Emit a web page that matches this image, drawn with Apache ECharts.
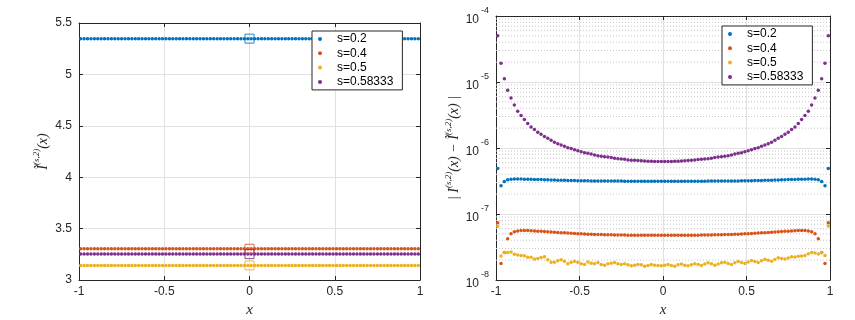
<!DOCTYPE html>
<html><head><meta charset="utf-8">
<script src="https://cdn.jsdelivr.net/npm/echarts@6/dist/echarts.min.js"></script>
<style>html,body{margin:0;padding:0;background:#fff}#c{width:855px;height:320px}</style>
</head><body><div id="c"></div>
<script>
// ---- data ----
const seriesNames = ['s=0.2', 's=0.4', 's=0.5', 's=0.58333'];
const xGrid = [
-0.99,-0.97,-0.95,-0.93,-0.91,-0.89,-0.87,-0.85,-0.83,-0.81,
-0.79,-0.77,-0.75,-0.73,-0.71,-0.69,-0.67,-0.65,-0.63,-0.61,
-0.59,-0.57,-0.55,-0.53,-0.51,-0.49,-0.47,-0.45,-0.43,-0.41,
-0.39,-0.37,-0.35,-0.33,-0.31,-0.29,-0.27,-0.25,-0.23,-0.21,
-0.19,-0.17,-0.15,-0.13,-0.11,-0.09,-0.07,-0.05,-0.03,-0.01,
0.01,0.03,0.05,0.07,0.09,0.11,0.13,0.15,0.17,0.19,
0.21,0.23,0.25,0.27,0.29,0.31,0.33,0.35,0.37,0.39,
0.41,0.43,0.45,0.47,0.49,0.51,0.53,0.55,0.57,0.59,
0.61,0.63,0.65,0.67,0.69,0.71,0.73,0.75,0.77,0.79,
0.81,0.83,0.85,0.87,0.89,0.91,0.93,0.95,0.97,0.99];

// left panel: approximated value (constant across x) and exact value at x=0
const approxLevel = [5.348, 3.304, 3.142, 3.252];
const exactX = [0, 0, 0, 0];
const exactVal = [5.348, 3.304, 3.142, 3.252];

// right panel: absolute error
const errS02 = [
4.9e-7,2.68e-7,3.12e-7,3.3e-7,3.36e-7,3.38e-7,3.38e-7,3.38e-7,3.37e-7,3.36e-7,
3.35e-7,3.34e-7,3.33e-7,3.32e-7,3.3e-7,3.29e-7,3.28e-7,3.27e-7,3.26e-7,3.25e-7,
3.24e-7,3.23e-7,3.22e-7,3.21e-7,3.2e-7,3.19e-7,3.18e-7,3.18e-7,3.17e-7,3.17e-7,
3.16e-7,3.16e-7,3.16e-7,3.15e-7,3.15e-7,3.15e-7,3.15e-7,3.15e-7,3.14e-7,3.14e-7,
3.14e-7,3.14e-7,3.14e-7,3.14e-7,3.14e-7,3.14e-7,3.14e-7,3.14e-7,3.14e-7,3.14e-7,
3.14e-7,3.14e-7,3.14e-7,3.14e-7,3.14e-7,3.14e-7,3.14e-7,3.14e-7,3.14e-7,3.14e-7,
3.14e-7,3.14e-7,3.14e-7,3.15e-7,3.15e-7,3.15e-7,3.15e-7,3.15e-7,3.16e-7,3.16e-7,
3.16e-7,3.17e-7,3.17e-7,3.18e-7,3.18e-7,3.19e-7,3.2e-7,3.21e-7,3.22e-7,3.23e-7,
3.24e-7,3.25e-7,3.26e-7,3.27e-7,3.28e-7,3.29e-7,3.3e-7,3.32e-7,3.33e-7,3.34e-7,
3.35e-7,3.36e-7,3.37e-7,3.38e-7,3.38e-7,3.37e-7,3.3e-7,3.12e-7,2.68e-7,4.9e-7];
const errS04 = [
7.4e-8,1.78e-8,2.6e-8,4.2e-8,5.0e-8,5.4e-8,5.55e-8,5.6e-8,5.62e-8,5.6e-8,
5.58e-8,5.55e-8,5.5e-8,5.46e-8,5.42e-8,5.38e-8,5.34e-8,5.3e-8,5.26e-8,5.22e-8,
5.18e-8,5.14e-8,5.1e-8,5.07e-8,5.04e-8,5.01e-8,4.98e-8,4.95e-8,4.93e-8,4.91e-8,
4.89e-8,4.87e-8,4.85e-8,4.84e-8,4.83e-8,4.82e-8,4.81e-8,4.8e-8,4.79e-8,4.78e-8,
4.78e-8,4.77e-8,4.77e-8,4.76e-8,4.76e-8,4.76e-8,4.75e-8,4.75e-8,4.75e-8,4.75e-8,
4.75e-8,4.75e-8,4.75e-8,4.75e-8,4.76e-8,4.76e-8,4.76e-8,4.77e-8,4.77e-8,4.78e-8,
4.78e-8,4.79e-8,4.8e-8,4.81e-8,4.82e-8,4.83e-8,4.84e-8,4.85e-8,4.87e-8,4.89e-8,
4.91e-8,4.93e-8,4.95e-8,4.98e-8,5.01e-8,5.04e-8,5.07e-8,5.1e-8,5.14e-8,5.18e-8,
5.22e-8,5.26e-8,5.3e-8,5.34e-8,5.38e-8,5.42e-8,5.46e-8,5.5e-8,5.55e-8,5.58e-8,
5.6e-8,5.62e-8,5.6e-8,5.55e-8,5.4e-8,5.0e-8,4.2e-8,2.6e-8,1.78e-8,7.4e-8];
const errS05 = [
6.5e-8,2.32e-8,2.6e-8,2.6e-8,2.66e-8,2.45e-8,2.4e-8,2.35e-8,2.33e-8,2.22e-8,
2.22e-8,2.08e-8,2.12e-8,2.2e-8,2.25e-8,2.02e-8,1.86e-8,1.86e-8,1.95e-8,2.02e-8,
1.92e-8,1.77e-8,1.85e-8,1.92e-8,1.85e-8,1.77e-8,1.72e-8,1.88e-8,1.8e-8,1.76e-8,
1.84e-8,1.72e-8,1.68e-8,1.76e-8,1.8e-8,1.84e-8,1.76e-8,1.72e-8,1.76e-8,1.7e-8,
1.64e-8,1.68e-8,1.72e-8,1.7e-8,1.62e-8,1.66e-8,1.72e-8,1.68e-8,1.66e-8,1.64e-8,
1.68e-8,1.72e-8,1.66e-8,1.62e-8,1.7e-8,1.74e-8,1.68e-8,1.64e-8,1.7e-8,1.76e-8,
1.72e-8,1.66e-8,1.74e-8,1.82e-8,1.76e-8,1.68e-8,1.74e-8,1.82e-8,1.86e-8,1.78e-8,
1.72e-8,1.82e-8,1.9e-8,1.84e-8,1.78e-8,1.88e-8,1.98e-8,1.9e-8,1.84e-8,1.96e-8,
2.06e-8,2.0e-8,1.92e-8,2.04e-8,2.18e-8,2.12e-8,2.08e-8,2.16e-8,2.26e-8,2.24e-8,
2.3e-8,2.32e-8,2.36e-8,2.5e-8,2.62e-8,2.56e-8,2.48e-8,2.58e-8,2.35e-8,6.6e-8];
const errS058 = [
5.0e-5,1.93e-5,1.12e-5,7.5e-6,5.7e-6,4.5e-6,3.6e-6,3.1e-6,2.7e-6,2.35e-6,
2.08e-6,1.9e-6,1.73e-6,1.61e-6,1.5e-6,1.4e-6,1.31e-6,1.22e-6,1.16e-6,1.11e-6,
1.06e-6,1.01e-6,9.8e-7,9.4e-7,9.1e-7,8.8e-7,8.5e-7,8.3e-7,8.1e-7,7.8e-7,
7.65e-7,7.5e-7,7.4e-7,7.3e-7,7.15e-7,7.0e-7,6.85e-7,6.8e-7,6.75e-7,6.6e-7,
6.55e-7,6.5e-7,6.45e-7,6.4e-7,6.35e-7,6.3e-7,6.3e-7,6.25e-7,6.25e-7,6.25e-7,
6.25e-7,6.25e-7,6.25e-7,6.3e-7,6.3e-7,6.35e-7,6.4e-7,6.45e-7,6.5e-7,6.6e-7,
6.7e-7,6.75e-7,6.8e-7,6.9e-7,7.0e-7,7.15e-7,7.3e-7,7.4e-7,7.5e-7,7.65e-7,
7.8e-7,8.1e-7,8.3e-7,8.5e-7,8.8e-7,9.1e-7,9.4e-7,9.8e-7,1.01e-6,1.06e-6,
1.11e-6,1.16e-6,1.22e-6,1.31e-6,1.4e-6,1.5e-6,1.61e-6,1.73e-6,1.9e-6,2.08e-6,
2.35e-6,2.7e-6,3.1e-6,3.6e-6,4.5e-6,5.7e-6,7.5e-6,1.12e-5,1.93e-5,5.0e-5];
const errSeries = [errS02, errS04, errS05, errS058];

// ticks
const xTicks = [-1, -0.5, 0, 0.5, 1];
const leftYTicks = [3, 3.5, 4, 4.5, 5, 5.5];
const rightYExponents = [-8, -7, -6, -5, -4];
const minorMantissas = [2, 3, 4, 5, 6, 7, 8, 9];

// ---- style ----
const colors = ['#0072BD', '#D95319', '#EDB120', '#7E2F8E'];
const AX = '#262626';
const GRIDC = '#e1e1e1';
const FONT = 'Liberation Sans';
const MATH = 'Liberation Serif';

const minorVals = [];
rightYExponents.slice(0, -1).forEach(e => minorMantissas.forEach(m => minorVals.push(m * Math.pow(10, e))));

function xAx(gi, bottom) {
  return {
    gridIndex: gi, type: 'value', min: xTicks[0], max: xTicks[xTicks.length - 1], interval: 0.5,
    position: bottom ? 'bottom' : 'top',
    axisLine: {show: true, onZero: false, lineStyle: {color: AX, width: 1}},
    axisTick: {show: true, inside: true, length: 4, lineStyle: {color: AX}},
    axisLabel: {show: bottom, margin: 6, fontSize: 12, fontFamily: FONT, color: AX,
      formatter: v => String(v), showMinLabel: true, showMaxLabel: true},
    splitLine: {show: bottom, lineStyle: {color: GRIDC, width: 1}},
    name: bottom ? 'x' : '', nameLocation: 'middle', nameGap: 17,
    nameTextStyle: {fontFamily: MATH, fontStyle: 'italic', fontSize: 15, color: AX}
  };
}
function yLin(gi, left) {
  return {
    gridIndex: gi, type: 'value', min: leftYTicks[0], max: leftYTicks[leftYTicks.length - 1], interval: 0.5,
    position: left ? 'left' : 'right',
    axisLine: {show: true, onZero: false, lineStyle: {color: AX, width: 1}},
    axisTick: {show: true, inside: true, length: 4, lineStyle: {color: AX}},
    axisLabel: {show: left, margin: 7, fontSize: 12, fontFamily: FONT, color: AX,
      formatter: v => String(v), showMinLabel: true, showMaxLabel: true},
    splitLine: {show: left, lineStyle: {color: GRIDC, width: 1}},
    name: left ? '{a|Ĩ}{b|(s,2)}{a|(x)}' : '', nameLocation: 'middle', nameGap: 29,
    nameTextStyle: {color: AX, rich: {
      a: {fontFamily: MATH, fontStyle: 'italic', fontSize: 14, lineHeight: 18, verticalAlign: 'bottom', color: AX},
      b: {fontFamily: MATH, fontStyle: 'italic', fontSize: 9, lineHeight: 18, verticalAlign: 'top', color: AX}
    }}
  };
}
function yLog(gi, left) {
  return {
    gridIndex: gi, type: 'log', logBase: 10,
    min: Math.pow(10, rightYExponents[0]), max: Math.pow(10, rightYExponents[rightYExponents.length - 1]),
    splitNumber: rightYExponents.length - 1,
    position: left ? 'left' : 'right',
    axisLine: {show: true, onZero: false, lineStyle: {color: AX, width: 1}},
    axisTick: {show: true, inside: true, length: 4, lineStyle: {color: AX}},
    axisLabel: {show: left, margin: 7, color: AX, showMinLabel: true, showMaxLabel: true,
      formatter: v => '{b|10}{p|' + Math.round(Math.log10(v)) + '}',
      rich: {
        b: {fontFamily: FONT, fontSize: 12, lineHeight: 20, verticalAlign: 'bottom', color: AX},
        p: {fontFamily: FONT, fontSize: 9, lineHeight: 20, verticalAlign: 'top', color: AX, padding: [0, 0, 0, 2]}
      }},
    splitLine: {show: left, lineStyle: {color: GRIDC, width: 1}},
    name: left ? '{a|| I}{b|(s,2)}{a|(x) − Ĩ}{b|(s,2)}{a|(x) |}' : '', nameLocation: 'middle', nameGap: 33,
    nameTextStyle: {color: AX, rich: {
      a: {fontFamily: MATH, fontStyle: 'italic', fontSize: 14, lineHeight: 18, verticalAlign: 'bottom', color: AX},
      b: {fontFamily: MATH, fontStyle: 'italic', fontSize: 9, lineHeight: 18, verticalAlign: 'top', color: AX}
    }}
  };
}
function legendAt(left, top) {
  return {
    data: seriesNames, left: left, top: top, orient: 'vertical', icon: 'circle',
    itemWidth: 24, itemHeight: 4, itemGap: 0.3, itemTextGap: 5, selectedMode: false,
    padding: [1, 9, 1, 6], backgroundColor: '#fff', borderColor: AX, borderWidth: 1, borderRadius: 0,
    textStyle: {fontFamily: FONT, fontSize: 12, color: '#000', lineHeight: 14}, z: 10
  };
}

const series = [];
// minor grid lines of the log panel (dotted), drawn beneath the points
minorVals.forEach(v => {
  series.push({
    name: 'minor ' + v, type: 'line', xAxisIndex: 2, yAxisIndex: 2, silent: true, z: 1,
    symbol: 'none', showSymbol: false, animation: false,
    lineStyle: {color: '#c6c6c6', width: 1, type: [1, 2]},
    emphasis: {disabled: true},
    data: [[xTicks[0], v], [xTicks[xTicks.length - 1], v]]
  });
});
seriesNames.forEach((n, i) => {
  series.push({
    name: n, type: 'scatter', xAxisIndex: 0, yAxisIndex: 0, symbol: 'circle', symbolSize: 3.5,
    itemStyle: {color: colors[i], opacity: 1}, emphasis: {disabled: true}, z: 3,
    data: xGrid.map(x => [x, approxLevel[i]])
  });
});
seriesNames.forEach((n, i) => {
  series.push({
    name: 'exact ' + n, type: 'scatter', xAxisIndex: 0, yAxisIndex: 0, symbol: 'rect', symbolSize: 9,
    itemStyle: {color: 'rgba(0,0,0,0)', borderColor: colors[i], borderWidth: 1, opacity: 0.85},
    emphasis: {disabled: true}, z: 4,
    data: [[exactX[i], exactVal[i]]]
  });
});
seriesNames.forEach((n, i) => {
  series.push({
    name: n, type: 'scatter', xAxisIndex: 2, yAxisIndex: 2, symbol: 'circle', symbolSize: 3.5,
    itemStyle: {color: colors[i], opacity: 1}, emphasis: {disabled: true}, z: 3,
    data: xGrid.map((x, k) => [x, errSeries[i][k]])
  });
});

const chart = echarts.init(document.getElementById('c'), null, {renderer: 'canvas'});
chart.setOption({
  animation: false,
  backgroundColor: '#fff',
  grid: [
    {left: 79, top: 23, width: 341, height: 257, containLabel: false, outerBoundsMode: 'none'},
    {left: 496, top: 16, width: 334, height: 264, containLabel: false, outerBoundsMode: 'none'}
  ],
  xAxis: [xAx(0, true), xAx(0, false), xAx(1, true), xAx(1, false)],
  yAxis: [yLin(0, true), yLin(0, false), yLog(1, true), yLog(1, false)],
  legend: [legendAt(312, 31), legendAt(722, 26)],
  tooltip: {show: false},
  series: series
});
</script></body></html>
